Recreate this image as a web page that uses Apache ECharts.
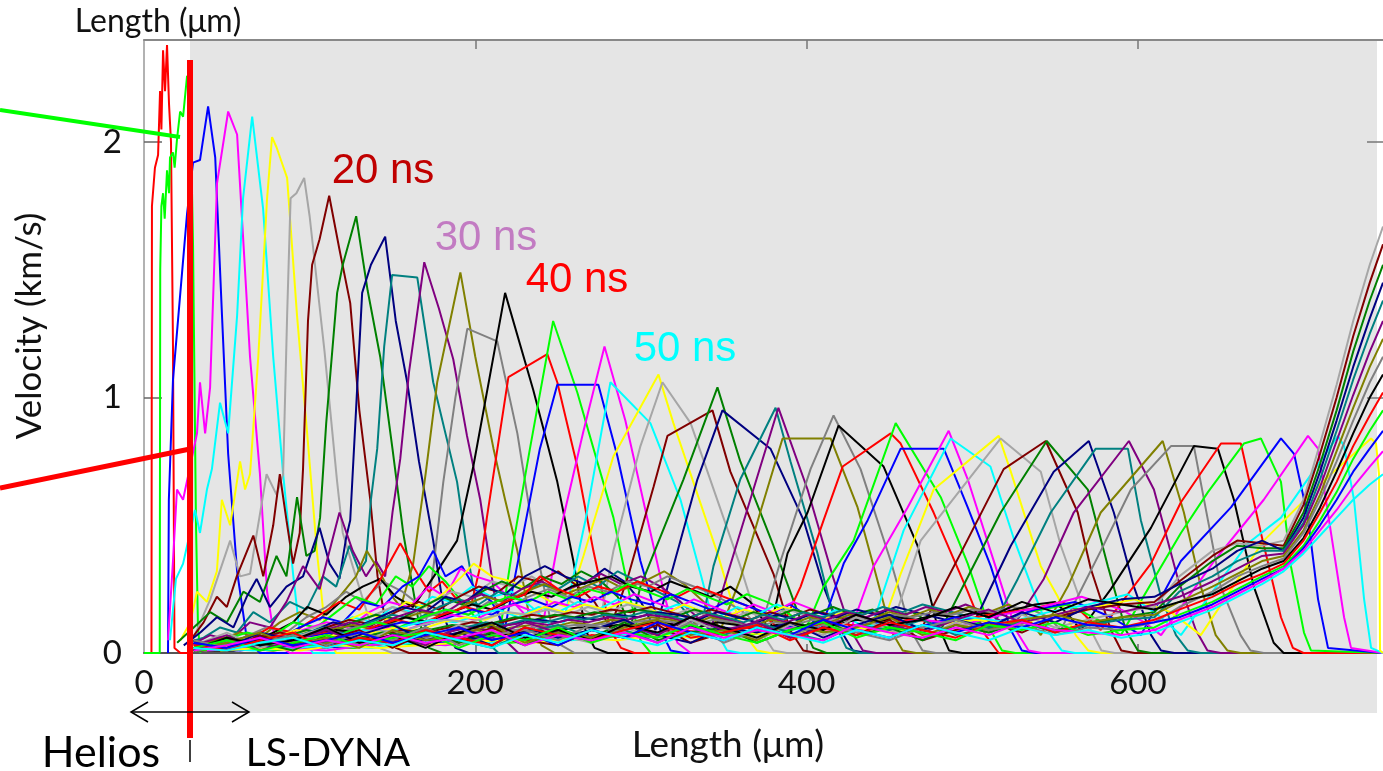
<!DOCTYPE html>
<html><head><meta charset="utf-8">
<script src="https://cdn.jsdelivr.net/npm/echarts@6/dist/echarts.min.js"></script>
<style>html,body{margin:0;padding:0;background:#fff}#c{width:1383px;height:771px}</style>
</head><body><div id="c"></div>
<script>
// Velocity profiles (x: Length in µm, y: Velocity in km/s), one array per time step
const p01=[[0,0],[4.5,0],[4.8,1.75],[6.6,1.9],[8.5,1.95],[9.7,2.2],[10.5,2.05],[11.5,2.36],[12.7,2.2],[13.9,2.38],[15.1,2.15],[16.3,2.0],[17.5,1.2],[18.4,.02],[22,0],[28,0]];
const p02=[[0,0],[9.5,0],[9.8,1.5],[10.5,1.75],[11.5,1.8],[12.5,1.7],[13.9,1.89],[15.1,1.8],[15.7,1.94],[17.5,1.96],[18.5,1.9],[19.9,2.01],[21.8,2.12],[23.6,2.1],[26,2.26],[27.8,2.2],[29.6,1.6],[31.4,.5],[32.6,.1],[34,0]];
const p03=[[14.5,0],[15,.6],[17.5,1.07],[20.5,1.3],[26,1.72],[29.6,1.92],[33.8,1.93],[38.7,2.14],[43,1.94],[47.1,1.32],[50.8,.78],[56.2,.32],[62.2,.05],[70,0],[748,0]];
const p04=[[14.5,.05],[17.5,.36],[19.9,.64],[23.6,.6],[32,.86],[33.8,1.06],[36.9,.86],[39.9,1.04],[44.1,1.84],[50.8,2.12],[56.2,2.03],[59.8,1.63],[64,1.16],[70,.7],[74.3,.24],[79.2,.04],[88,0],[748,0]];
const p05=[[15.7,.05],[19.3,.29],[23.6,.35],[30.8,.56],[33.8,.47],[38,.64],[41,.72],[45.9,.98],[50.8,.86],[56.2,1.32],[59.8,1.78],[65.3,2.1],[71.9,1.74],[78,1.16],[84,.7],[90,.31],[94,.08],[102,0],[748,0]];
const p06=[[22,.05],[28,.12],[32,.24],[38,.2],[44,.32],[47,.6],[52,.5],[58,.75],[61,.64],[64,.7],[69,1.16],[74.3,1.78],[77.3,2.02],[80,1.98],[86.4,1.86],[92.4,1.32],[98.5,.86],[104.5,.39],[109.4,.09],[116,0],[748,0]];
const p07=[[30,.06],[40,.21],[52,.44],[58,.3],[64,.31],[74,.7],[80,.62],[84,.7],[86.4,1.32],[88.5,1.78],[92,1.8],[96.7,1.86],[100,1.71],[109,1.18],[116.6,.67],[120,.47],[126,.34],[136,.13],[142,.02],[150,0],[748,0]];
const p08=[[28,.05],[36,.12],[44,.22],[50,.18],[56,.3],[66,.46],[72,.3],[78,.5],[82,.7],[86,.52],[90,.35],[94,.47],[96,.72],[99,1.3],[101.5,1.52],[106,1.62],[111.8,1.79],[118,1.58],[124.5,1.37],[130,.95],[136.6,.6],[141,.3],[145.6,.13],[152,.02],[160,0],[748,0]];
const p09=[[20,.04],[30,.1],[40,.16],[50,.12],[60,.24],[70,.2],[80,.38],[86,.3],[92.4,.61],[98,.38],[103,.4],[106.3,.53],[110,.9],[116.6,1.41],[120,1.52],[128.1,1.71],[135,1.42],[142.6,1.16],[150,.8],[156.5,.47],[165.6,.13],[172,.02],[180,0],[748,0]];
const p10=[[24,.03],[34,.08],[44,.14],[54,.1],[62,.22],[68,.29],[76,.18],[86,.26],[96,.3],[106,.49],[112,.35],[118,.29],[122,.45],[124.5,.52],[128,.95],[131.7,1.41],[137,1.52],[145.6,1.63],[152,1.3],[158.9,1.06],[166,.75],[174.6,.44],[181.9,.13],[188,.02],[196,0],[748,0]];
const p11=[[26,.04],[36,.06],[46,.1],[56,.08],[66,.16],[76,.12],[88,.2],[98,.17],[108,.3],[116,.26],[124,.42],[130,.32],[134,.36],[137,.6],[140.8,.8],[145,1.2],[149.8,1.48],[165,1.47],[174.6,1.06],[189,.67],[195,.4],[200,.21],[206,.05],[214,0],[748,0]];
const p12=[[28,.03],[40,.07],[52,.05],[64,.12],[76,.1],[86,.2],[96,.34],[106,.25],[118,.55],[126,.4],[134,.3],[140,.36],[145.6,.3],[150,.55],[154.7,.76],[160,1.1],[169.2,1.53],[178,1.35],[186.7,1.15],[195,.85],[203,.6],[212,.21],[218,.05],[226,0],[748,0]];
const p13=[[30,.02],[44,.05],[58,.08],[70,.06],[82,.12],[94,.16],[106,.13],[118,.22],[128,.3],[134.5,.4],[142,.32],[150,.22],[155,.18],[162.5,.35],[170,.7],[177,1.06],[191,1.49],[200,1.16],[211,.8],[218,.6],[225.4,.4],[233,.13],[240,.03],[248,0],[748,0]];
const p14=[[32,.02],[46,.04],[60,.06],[74,.1],[86,.08],[98,.14],[110,.18],[122,.24],[132,.2],[144,.28],[156,.24],[164,.2],[169.8,.1],[175,.35],[180.7,.67],[188,1.0],[195.2,1.27],[213.3,1.22],[225.4,.86],[235,.47],[245.3,.13],[252,.03],[260,0],[748,0]];
const p15=[[34,.02],[50,.05],[64,.04],[78,.08],[90,.12],[98.5,.18],[110,.15],[122,.22],[132,.26],[142.6,.29],[152,.22],[162.5,.18],[175,.3],[189,.44],[198.8,.73],[218,1.41],[235,1.03],[249.5,.67],[259.2,.36],[266.5,.09],[272,.02],[280,0],[748,0]];
const p16=[[30,.03],[46,.06],[60,.04],[76,.1],[90,.08],[104,.14],[118,.2],[130,.17],[142,.28],[154.7,.43],[166,.3],[172,.24],[180,.28],[190,.2],[198,.2],[203,.34],[207,.53],[220,1.08],[243.5,1.17],[249.5,1.06],[261.6,.73],[271.3,.4],[281.6,.09],[288,.02],[296,0],[748,0]];
const p17=[[32,.02],[48,.05],[62,.08],[76,.06],[90,.12],[104,.1],[116,.16],[128,.22],[140,.19],[152,.3],[162,.26],[172,.34],[182,.28],[192,.2],[200,.14],[208,.1],[215,.09],[223,.43],[233,.8],[247,1.3],[261.6,1.02],[283.4,.53],[293.7,.21],[299.7,.05],[306,0],[748,0]];
const p18=[[34,.02],[50,.04],[66,.07],[80,.05],[94,.1],[108,.14],[120,.12],[132,.2],[144,.18],[156,.26],[166,.3],[174.6,.4],[182,.3],[192,.34],[200,.25],[210,.2],[218,.1],[227,.4],[239,.8],[249.5,1.05],[274.3,1.05],[285.8,.77],[299.7,.36],[311.8,.09],[318,.01],[326,0],[748,0]];
const p19=[[36,.02],[52,.03],[68,.06],[82,.05],[96,.09],[110,.12],[124,.1],[136,.16],[148,.2],[160,.18],[172,.26],[182,.22],[191,.33],[200,.3],[210,.28],[220,.22],[230,.15],[239,.05],[251,.47],[265,.86],[278,1.2],[290.6,.91],[302.7,.56],[314.8,.21],[322,.04],[330,0],[748,0]];
const p20=[[38,.01],[54,.04],[70,.03],[84,.07],[98,.06],[112,.1],[126,.14],[138,.12],[150,.18],[162,.16],[174,.22],[186,.2],[198,.26],[210,.22],[222,.24],[234,.18],[244,.12],[251,.05],[266.5,.52],[281.6,1.06],[305.7,.9],[323.9,.6],[336,.31],[345,.09],[352,.01],[360,0],[748,0]];
const p21=[[30,.02],[46,.05],[62,.03],[78,.06],[92,.09],[106,.07],[120,.12],[134,.16],[146,.13],[158,.2],[170,.18],[182,.24],[192,.3],[199,.35],[210,.3],[222,.28],[234,.24],[246,.2],[255.6,.18],[265.3,.38],[283.4,.77],[310.6,1.09],[319.6,.9],[346.2,.39],[354,.22],[363,.07],[370,.01],[378,0],[748,0]];
const p22=[[32,.01],[48,.04],[64,.06],[80,.05],[94,.08],[108,.11],[122,.09],[136,.14],[150,.18],[162,.15],[174,.2],[186,.24],[198,.22],[210,.28],[222,.26],[234,.3],[246,.25],[258,.2],[268,.16],[275.5,.13],[283.4,.4],[299.7,.81],[313,1.06],[330,.9],[360,.34],[372,.09],[380,.01],[388,0],[748,0]];
const p23=[[34,.02],[50,.03],[66,.05],[82,.08],[96,.06],[110,.1],[124,.13],[138,.11],[152,.16],[166,.2],[178,.17],[190,.22],[202,.26],[214,.24],[226,.3],[238,.28],[250,.32],[262,.26],[272,.2],[281.6,.1],[291.8,.29],[307.6,.65],[316,.85],[343.2,.95],[354,.71],[380,.31],[390,.09],[398,.01],[406,0],[748,0]];
const p24=[[36,.01],[52,.04],[68,.03],[84,.06],[98,.09],[112,.07],[126,.12],[140,.15],[154,.13],[168,.18],[180,.22],[192,.19],[204,.24],[216,.28],[228,.25],[240,.3],[252,.27],[264,.32],[276,.28],[286,.22],[293.7,.1],[299.7,.26],[325.7,.68],[346.2,1.04],[360,.75],[380,.42],[396.4,.13],[404,.02],[412,0],[748,0]];
const p25=[[38,.02],[54,.03],[70,.06],[86,.05],[100,.08],[114,.12],[128,.1],[142,.14],[156,.18],[170,.16],[182,.22],[194,.2],[206,.26],[218,.23],[230,.3],[242,.34],[254,.3],[266,.27],[278,.33],[290,.28],[300,.2],[308.8,.09],[319.6,.34],[334.1,.68],[349.2,.95],[378.2,.8],[398.2,.52],[410.3,.26],[420.5,.09],[428,.01],[436,0],[748,0]];
const p26=[[30,.01],[46,.03],[62,.05],[78,.04],[94,.07],[108,.1],[122,.08],[136,.12],[150,.15],[164,.13],[178,.18],[190,.21],[202,.19],[214,.24],[226,.22],[238,.27],[250,.25],[262,.3],[274,.26],[286,.32],[298,.28],[310,.24],[322,.2],[336,.09],[343.8,.34],[360,.68],[381.3,.96],[390.3,.75],[406.6,.39],[417.5,.11],[424,.02],[432,0],[748,0]];
const p27=[[32,.02],[48,.02],[64,.04],[80,.07],[96,.05],[110,.09],[124,.12],[138,.1],[152,.14],[166,.17],[180,.15],[192,.2],[204,.23],[216,.2],[228,.25],[240,.28],[252,.24],[264,.27],[276,.31],[288,.27],[300,.3],[312,.26],[324,.2],[334,.14],[342,.09],[366,.6],[383,.96],[400.6,.64],[416.3,.29],[426.6,.09],[434,.01],[442,0],[748,0]];
const p28=[[34,.01],[50,.03],[66,.05],[82,.04],[98,.06],[112,.09],[126,.11],[140,.09],[154,.13],[168,.16],[182,.14],[194,.19],[206,.22],[218,.2],[230,.24],[242,.27],[254,.23],[266,.26],[278,.29],[290,.25],[302,.28],[314,.32],[326,.27],[338,.2],[348,.09],[360,.29],[372,.55],[385.5,.84],[414.5,.84],[430.8,.57],[440.5,.34],[450.8,.09],[458,.01],[466,0],[748,0]];
const p29=[[36,.02],[52,.02],[68,.04],[84,.06],[100,.05],[114,.08],[128,.1],[142,.12],[156,.1],[170,.14],[184,.17],[196,.15],[208,.2],[220,.18],[232,.22],[244,.25],[256,.22],[268,.26],[280,.24],[292,.28],[304,.26],[316,.3],[328,.27],[340,.24],[352,.2],[364,.15],[372,.09],[384.3,.36],[402.4,.72],[416.3,.93],[432.6,.72],[450.8,.36],[462.8,.09],[470,.01],[478,0],[748,0]];
const p30=[[38,.01],[54,.03],[70,.05],[86,.04],[102,.07],[116,.09],[130,.08],[144,.11],[158,.14],[172,.12],[186,.16],[198,.19],[210,.17],[222,.21],[234,.24],[246,.22],[258,.26],[270,.28],[282,.3],[294,.26],[306,.24],[318,.28],[330,.25],[342,.22],[354,.26],[366,.2],[378,.09],[388.5,.39],[400.6,.55],[419.3,.89],[446.5,.73],[467,.42],[478,.13],[486,.01],[494,0],[748,0]];
const p31=[[30,.01],[46,.02],[62,.04],[78,.03],[94,.06],[110,.08],[124,.07],[138,.1],[152,.13],[166,.11],[180,.15],[194,.18],[206,.16],[218,.2],[230,.23],[239,.3],[250,.25],[262,.22],[274,.26],[286,.24],[298,.28],[310,.25],[322,.22],[334,.26],[346,.23],[358,.2],[370,.17],[384.3,.09],[396.4,.26],[410.3,.52],[421.8,.73],[450.8,.86],[456.8,.82],[476.7,.55],[497.3,.24],[508,.07],[516,0],[748,0]];
const p32=[[32,.02],[48,.03],[64,.02],[80,.05],[96,.07],[112,.06],[126,.09],[140,.12],[154,.1],[168,.14],[182,.17],[196,.15],[208,.19],[220,.22],[232,.2],[244,.24],[256,.21],[268,.25],[280,.23],[292,.27],[304,.24],[316,.21],[328,.25],[340,.22],[352,.19],[364,.23],[376,.2],[388,.16],[400,.1],[410.3,.26],[428.4,.44],[453.8,.9],[481,.61],[497.3,.35],[511,.09],[518,.01],[526,0],[748,0]];
const p33=[[34,.01],[50,.02],[66,.04],[82,.03],[98,.06],[114,.08],[128,.07],[142,.1],[156,.12],[170,.11],[184,.14],[198,.17],[210,.15],[222,.19],[234,.21],[246,.18],[258,.22],[270,.2],[282,.24],[294,.21],[306,.19],[318,.23],[330,.2],[342,.17],[354,.21],[366,.18],[378,.15],[390,.19],[402,.14],[408.5,.09],[422.4,.35],[436.9,.52],[456.8,.8],[482.8,.8],[497.3,.57],[511.2,.34],[523.3,.09],[530,.01],[538,0],[748,0]];
const p34=[[36,.01],[52,.03],[68,.02],[84,.04],[100,.06],[116,.05],[130,.08],[144,.1],[158,.09],[172,.12],[186,.15],[200,.13],[212,.17],[224,.19],[236,.16],[248,.2],[260,.18],[272,.22],[284,.19],[296,.23],[308,.2],[320,.17],[332,.21],[344,.18],[356,.15],[368,.19],[380,.16],[392,.2],[404,.17],[416,.13],[426.6,.09],[440.5,.34],[461,.57],[485.8,.87],[497.3,.68],[514,.34],[526.3,.09],[534,.01],[542,0],[748,0]];
const p35=[[38,.02],[54,.02],[70,.03],[86,.05],[102,.04],[118,.07],[132,.09],[146,.08],[160,.11],[174,.13],[188,.12],[202,.15],[214,.17],[226,.14],[238,.18],[250,.16],[262,.2],[274,.17],[286,.21],[298,.18],[310,.16],[322,.19],[334,.17],[346,.14],[358,.18],[370,.15],[382,.19],[394,.16],[406,.13],[418,.17],[430,.12],[438.7,.09],[458.6,.48],[487,.84],[511,.73],[525,.45],[537,.24],[547.4,.07],[554,.01],[562,0],[748,0]];
const p36=[[30,.01],[46,.02],[62,.03],[78,.02],[94,.05],[110,.07],[124,.06],[138,.08],[152,.1],[166,.09],[180,.12],[194,.14],[206,.13],[218,.16],[230,.15],[242,.18],[254,.16],[266,.19],[278,.17],[290,.2],[302,.18],[314,.15],[326,.19],[338,.16],[350,.14],[362,.17],[374,.15],[386,.18],[398,.16],[410,.13],[422,.16],[434,.14],[444.7,.09],[456.8,.31],[476.7,.64],[516,.85],[523.3,.71],[541.4,.34],[551.7,.22],[562.5,.07],[570,.01],[578,0],[748,0]];
const p37=[[32,.01],[48,.02],[64,.02],[80,.04],[96,.06],[112,.05],[126,.07],[140,.09],[154,.08],[168,.11],[182,.13],[196,.12],[208,.14],[220,.16],[232,.15],[244,.17],[256,.15],[268,.18],[280,.16],[292,.19],[304,.17],[316,.14],[328,.17],[340,.15],[352,.13],[364,.16],[376,.14],[388,.17],[400,.15],[412,.12],[424,.15],[436,.13],[450.8,.09],[468.9,.44],[517.2,.84],[541.4,.71],[553.5,.42],[571.6,.09],[578,.01],[586,0],[748,0]];
const p38=[[34,.01],[50,.02],[66,.03],[82,.02],[98,.04],[114,.06],[128,.05],[142,.07],[156,.09],[170,.08],[184,.1],[198,.12],[210,.11],[222,.13],[234,.15],[246,.14],[258,.16],[270,.15],[282,.17],[294,.16],[306,.18],[318,.16],[330,.14],[342,.17],[354,.15],[366,.13],[378,.16],[390,.14],[402,.17],[414,.15],[426,.13],[438,.16],[450,.14],[460,.12],[468.9,.09],[493,.39],[519,.72],[544.4,.83],[563.7,.55],[571.6,.33],[583.7,.09],[590,.01],[598,0],[748,0]];
const p39=[[36,.01],[52,.02],[68,.02],[84,.03],[100,.05],[116,.04],[130,.06],[144,.08],[158,.07],[172,.09],[186,.11],[200,.1],[212,.12],[224,.14],[236,.13],[248,.15],[260,.14],[272,.16],[284,.15],[296,.17],[308,.16],[320,.14],[332,.17],[344,.15],[356,.13],[368,.16],[380,.14],[392,.17],[404,.15],[416,.18],[428,.15],[440,.17],[452,.14],[464,.16],[474,.12],[481,.09],[517.2,.55],[545,.83],[569.8,.64],[581.9,.34],[592.7,.09],[600,.01],[608,0],[748,0]];
const p40=[[38,.01],[54,.01],[70,.03],[86,.02],[102,.04],[118,.05],[132,.04],[146,.06],[160,.08],[174,.07],[188,.09],[202,.11],[214,.1],[226,.12],[238,.13],[250,.12],[262,.14],[274,.13],[286,.15],[298,.14],[310,.16],[322,.15],[334,.13],[346,.16],[358,.14],[370,.12],[382,.15],[394,.13],[406,.16],[418,.14],[430,.17],[442,.15],[454,.18],[466,.16],[478,.14],[490,.12],[499,.09],[523.3,.42],[549.2,.71],[570.4,.83],[585.5,.55],[597.6,.26],[608,.07],[614,.01],[622,0],[748,0]];
const p41=[[30,.01],[46,.01],[62,.02],[78,.03],[94,.02],[110,.04],[124,.06],[138,.05],[152,.07],[166,.09],[180,.08],[194,.1],[206,.12],[218,.11],[230,.13],[242,.12],[254,.14],[266,.13],[278,.15],[290,.14],[302,.16],[314,.15],[326,.13],[338,.16],[350,.14],[362,.12],[374,.15],[386,.13],[398,.16],[410,.14],[422,.17],[434,.15],[446,.18],[458,.16],[470,.19],[482,.17],[494,.15],[504,.12],[511.2,.09],[527.5,.29],[547.4,.55],[574.6,.8],[594,.8],[601.8,.52],[614,.22],[623,.07],[630,.01],[638,0],[748,0]];
const p42=[[32,.01],[48,.01],[64,.02],[80,.02],[96,.03],[112,.05],[126,.04],[140,.06],[154,.07],[168,.06],[182,.08],[196,.1],[208,.09],[220,.11],[232,.12],[244,.11],[256,.13],[268,.12],[280,.14],[292,.13],[304,.15],[316,.14],[328,.12],[340,.15],[352,.13],[364,.11],[376,.14],[388,.12],[400,.15],[412,.13],[424,.16],[436,.14],[448,.17],[460,.15],[472,.18],[484,.16],[496,.19],[508,.16],[516,.13],[523.3,.09],[543.2,.29],[561.3,.55],[594.6,.83],[609.7,.64],[624.2,.29],[635,.09],[642,.01],[650,0],[748,0]];
const p43=[[34,.01],[50,.01],[66,.02],[82,.02],[98,.03],[114,.04],[128,.04],[142,.05],[156,.06],[170,.06],[184,.07],[198,.09],[210,.08],[222,.1],[234,.11],[246,.1],[258,.12],[270,.11],[282,.13],[294,.12],[306,.14],[318,.13],[330,.11],[342,.14],[354,.12],[366,.1],[378,.13],[390,.11],[402,.14],[414,.12],[426,.15],[438,.13],[450,.16],[462,.14],[474,.17],[486,.15],[498,.18],[510,.16],[522,.19],[532,.15],[541.4,.07],[557.7,.26],[577.6,.55],[615,.83],[627.8,.55],[638,.26],[647,.07],[654,.01],[662,0],[748,0]];
const p44=[[36,.01],[52,.01],[68,.02],[84,.02],[100,.03],[116,.03],[130,.04],[144,.05],[158,.05],[172,.06],[186,.07],[200,.08],[212,.08],[224,.09],[236,.1],[248,.1],[260,.11],[272,.11],[284,.12],[296,.12],[308,.13],[320,.12],[332,.11],[344,.13],[356,.12],[368,.1],[380,.12],[392,.11],[404,.13],[416,.12],[428,.14],[440,.13],[452,.15],[464,.14],[476,.16],[488,.15],[500,.17],[512,.16],[524,.18],[536,.17],[546,.14],[553.5,.09],[577.6,.4],[595.8,.64],[620,.81],[633.8,.81],[642.3,.52],[650,.26],[662,.07],[668,.01],[676,0],[748,0]];
const p45=[[38,.01],[54,.01],[70,.02],[86,.02],[102,.02],[118,.03],[132,.03],[146,.04],[160,.05],[174,.05],[188,.06],[202,.07],[214,.07],[226,.08],[238,.09],[250,.09],[262,.1],[274,.1],[286,.11],[298,.11],[310,.12],[322,.11],[334,.1],[346,.12],[358,.11],[370,.09],[382,.11],[394,.1],[406,.12],[418,.11],[430,.13],[442,.12],[454,.14],[466,.13],[478,.15],[490,.14],[502,.16],[514,.15],[526,.17],[538,.19],[550,.2],[558,.15],[565.6,.09],[583.7,.25],[607.9,.49],[633.8,.81],[648.3,.8],[658,.6],[670,.26],[682,.04],[688,0],[748,0]];
const p46=[[30,.01],[54,.02],[78,.01],[102,.03],[126,.02],[150,.04],[174,.03],[198,.05],[222,.06],[246,.05],[270,.07],[294,.06],[318,.09],[342,.08],[366,.1],[390,.09],[414,.12],[438,.1],[462,.13],[486,.12],[510,.15],[534,.17],[554,.2],[566,.16],[577.6,.09],[607.9,.35],[626,.59],[650.2,.82],[662.2,.82],[674.3,.47],[686.4,.14],[693.6,.02],[700,0],[748,0]];
const p47=[[30,.01],[54,.02],[78,.01],[102,.03],[126,.02],[150,.04],[174,.03],[198,.05],[222,.04],[246,.06],[270,.05],[294,.08],[318,.06],[342,.09],[366,.07],[390,.1],[414,.08],[438,.11],[462,.09],[486,.13],[510,.11],[534,.16],[558,.19],[576,.13],[589.7,.07],[626,.47],[642.3,.63],[664,.82],[674.3,.84],[686.4,.67],[692.4,.34],[700.3,.08],[704.5,.01],[748,0]];
const p48=[[34,.02],[58,.01],[82,.03],[106,.02],[130,.03],[154,.05],[178,.04],[202,.06],[226,.05],[250,.07],[274,.06],[298,.08],[322,.07],[346,.1],[370,.08],[394,.11],[418,.09],[442,.12],[466,.1],[490,.14],[514,.12],[538,.17],[562,.2],[584,.14],[601.8,.07],[626,.36],[656.2,.57],[686.4,.84],[694.3,.78],[702.7,.53],[708.8,.21],[714.8,.02],[748,0]];
const p49=[[38,.01],[62,.02],[86,.02],[110,.01],[134,.03],[158,.04],[182,.03],[206,.05],[230,.06],[254,.05],[278,.07],[302,.06],[326,.08],[350,.07],[374,.09],[398,.1],[422,.08],[446,.11],[470,.13],[494,.11],[518,.15],[542,.18],[566,.22],[590,.17],[604,.12],[614,.07],[646,.36],[676,.6],[702.7,.85],[708.8,.8],[716.6,.47],[724.5,.14],[728.7,.02],[748,0]];
const p50=[[42,.02],[66,.01],[90,.02],[114,.03],[138,.02],[162,.04],[186,.05],[210,.04],[234,.06],[258,.05],[282,.07],[306,.08],[330,.06],[354,.09],[378,.08],[402,.1],[426,.09],[450,.12],[474,.1],[498,.14],[522,.12],[546,.16],[570,.19],[594,.23],[612,.15],[626,.07],[666.5,.43],[686.4,.53],[720.8,.85],[724.5,.81],[730.5,.6],[736.6,.21],[740.8,.02],[748,0]];
const p51=[[46,.01],[70,.02],[94,.01],[118,.03],[142,.02],[166,.03],[190,.04],[214,.05],[238,.04],[262,.06],[286,.05],[310,.07],[334,.06],[358,.08],[382,.07],[406,.09],[430,.1],[454,.08],[478,.11],[502,.13],[526,.11],[550,.15],[574,.18],[598,.21],[620,.16],[638,.07],[676,.44],[714.8,.69],[740.8,.84],[743.8,.82],[745.6,.7],[746.2,.01],[748,0]];

// Later time steps (after the wave reaches the rear surface): shared x positions, one y array each
const fanX=[30,50,70,90,110,130,150,170,190,210,230,250,270,290,310,330,350,370,390,410,430,450,470,490,510,530,550,570,590,610,625,645,660,675,688,700,710,720,730,740,748];
const f01=[.03,.08,.02,.06,.1,.04,.09,.05,.11,.06,.12,.07,.04,.1,.06,.13,.08,.05,.11,.07,.14,.09,.06,.12,.08,.15,.1,.13,.16,.18,.3,.4,.43,.42,.44,.6,.82,1.05,1.3,1.52,1.67];
const f02=[.05,.01,.07,.03,.05,.09,.02,.08,.04,.1,.05,.03,.09,.06,.11,.04,.08,.12,.06,.1,.07,.13,.05,.09,.12,.08,.14,.17,.19,.2,.28,.38,.44,.43,.42,.58,.78,1.0,1.24,1.45,1.6];
const f03=[.02,.06,.04,.01,.07,.03,.06,.1,.04,.08,.03,.09,.06,.12,.05,.08,.1,.04,.09,.13,.07,.1,.05,.11,.08,.12,.09,.11,.14,.16,.26,.36,.42,.41,.41,.55,.74,.95,1.18,1.38,1.52];
const f04=[.04,.02,.08,.05,.03,.07,.11,.05,.08,.03,.1,.06,.09,.13,.07,.04,.1,.08,.12,.06,.11,.15,.09,.13,.1,.16,.12,.18,.21,.22,.27,.33,.4,.44,.4,.53,.71,.91,1.12,1.31,1.45];
const f05=[.01,.05,.03,.07,.02,.06,.04,.09,.05,.02,.08,.11,.06,.09,.04,.1,.07,.12,.08,.05,.11,.09,.13,.07,.1,.12,.08,.11,.13,.14,.24,.3,.36,.4,.4,.51,.68,.87,1.07,1.25,1.38];
const f06=[.03,.07,.01,.05,.09,.04,.07,.03,.1,.06,.12,.08,.05,.11,.07,.14,.09,.12,.06,.1,.15,.11,.08,.13,.17,.12,.15,.18,.16,.19,.22,.28,.33,.38,.39,.5,.65,.83,1.01,1.18,1.3];
const f07=[.02,.04,.08,.03,.06,.02,.09,.05,.07,.11,.04,.08,.06,.1,.13,.07,.09,.05,.12,.08,.1,.14,.07,.11,.09,.13,.15,.12,.14,.15,.2,.26,.31,.36,.38,.48,.62,.79,.96,1.12,1.23];
const f08=[.05,.02,.04,.07,.03,.08,.05,.1,.03,.07,.09,.05,.11,.08,.06,.12,.04,.09,.07,.11,.08,.05,.1,.13,.09,.11,.07,.1,.09,.12,.18,.24,.3,.34,.37,.47,.6,.75,.91,1.06,1.16];
const f09=[.01,.06,.03,.05,.1,.04,.07,.02,.08,.12,.06,.09,.05,.11,.08,.14,.1,.06,.12,.09,.15,.11,.13,.18,.14,.2,.16,.21,.19,.17,.2,.23,.28,.33,.36,.45,.57,.71,.86,1.0,1.09];
const f10=[.03,.01,.05,.08,.02,.06,.04,.09,.06,.03,.1,.07,.05,.09,.12,.06,.08,.11,.05,.1,.07,.12,.09,.06,.11,.13,.08,.12,.1,.13,.17,.22,.27,.31,.35,.44,.55,.67,.81,.93,1.02];
const f11=[.02,.05,.01,.04,.07,.03,.06,.08,.02,.07,.05,.1,.04,.08,.06,.11,.07,.04,.09,.12,.06,.1,.08,.05,.11,.09,.12,.07,.09,.1,.15,.2,.25,.3,.34,.42,.52,.63,.76,.87,.95];
const f12=[.04,.02,.06,.03,.05,.08,.04,.07,.1,.05,.08,.03,.09,.06,.12,.08,.05,.1,.07,.13,.09,.06,.11,.08,.12,.1,.14,.11,.1,.12,.14,.19,.24,.29,.33,.41,.5,.6,.71,.8,.87];
const f13=[.01,.03,.06,.02,.05,.03,.07,.04,.06,.09,.03,.07,.05,.08,.04,.1,.06,.09,.07,.05,.11,.08,.06,.1,.07,.12,.09,.08,.07,.09,.13,.18,.23,.28,.33,.4,.48,.56,.65,.73,.79];
const f14=[.02,.01,.04,.06,.02,.05,.03,.08,.05,.02,.07,.04,.09,.06,.03,.08,.05,.1,.07,.04,.09,.06,.11,.08,.05,.1,.07,.09,.06,.08,.12,.17,.22,.27,.32,.39,.46,.53,.6,.66,.7];

const xTicks=[0,200,400,600];
const yTicks=[0,1,2];
const palette=['#FF0000','#00FF00','#0000FF','#FF00FF','#00FFFF','#FFFF00','#A6A6A6','#800000','#008000','#000080','#008080','#800080','#808000','#808080','#000000'];

const pulses=[p01,p02,p03,p04,p05,p06,p07,p08,p09,p10,p11,p12,p13,p14,p15,p16,p17,p18,p19,p20,p21,p22,p23,p24,p25,p26,p27,p28,p29,p30,p31,p32,p33,p34,p35,p36,p37,p38,p39,p40,p41,p42,p43,p44,p45,p46,p47,p48,p49,p50,p51];
const fans=[f01,f02,f03,f04,f05,f06,f07,f08,f09,f10,f11,f12,f13,f14];

const allData=pulses.concat(fans.map(f=>fanX.map((x,j)=>[x,f[j]])));
const series=allData.map((d,i)=>({
  type:'line',data:d,showSymbol:false,symbol:'none',silent:true,animation:false,
  lineStyle:{color:palette[i%palette.length],width:2},
  itemStyle:{color:palette[i%palette.length]}
}));

const chart=echarts.init(document.getElementById('c'),null,{renderer:'canvas'});
const F='Lato, "Open Sans", sans-serif';
const A='"Liberation Sans", Arial, sans-serif';
chart.setOption({
  animation:false,
  backgroundColor:'#ffffff',
  grid:{left:144,right:0,top:40,bottom:118,containLabel:false,outerBoundsMode:'none'},
  xAxis:[
    {type:'value',position:'bottom',min:0,max:748,
     axisLine:{show:true,onZero:false,lineStyle:{color:'#555',width:2}},
     axisTick:{show:true,inside:true,length:9,customValues:[200,400,600],lineStyle:{color:'#666',width:1.5}},
     axisLabel:{customValues:xTicks,fontSize:33,fontFamily:F,color:'#111',margin:14},
     splitLine:{show:false}},
    {type:'value',position:'top',min:0,max:748,
     axisLine:{show:true,onZero:false,lineStyle:{color:'#888',width:2}},
     axisTick:{show:true,inside:true,length:9,customValues:[200,400,600],lineStyle:{color:'#777',width:1.5}},
     axisLabel:{show:false},splitLine:{show:false}}
  ],
  yAxis:[
    {type:'value',position:'left',min:0,max:2.4,
     axisLine:{show:true,onZero:false,lineStyle:{color:'#999',width:1.5}},
     axisTick:{show:true,inside:true,length:18,customValues:[1,2],lineStyle:{color:'#666',width:1.5}},
     axisLabel:{customValues:yTicks,fontSize:33,fontFamily:F,color:'#111',margin:22},
     splitLine:{show:false}},
    {type:'value',position:'right',min:0,max:2.4,
     axisLine:{show:true,onZero:false,lineStyle:{color:'#fff',opacity:0}},
     axisTick:{show:true,inside:true,length:16,customValues:[1,2],lineStyle:{color:'#777',width:1.5}},
     axisLabel:{show:false},splitLine:{show:false}}
  ],
  series:series,
  graphic:{elements:[
    {type:'rect',z:-10,silent:true,shape:{x:190,y:40,width:1187,height:673},style:{fill:'#E5E5E5'}},
    {type:'line',z:100,shape:{x1:0,y1:110,x2:180,y2:137},style:{stroke:'#00FF00',lineWidth:4}},
    {type:'line',z:100,shape:{x1:0,y1:488,x2:190,y2:449},style:{stroke:'#FF0000',lineWidth:5}},
    {type:'line',z:100,shape:{x1:190,y1:60,x2:190,y2:738},style:{stroke:'#FF0000',lineWidth:6}},
    {type:'line',z:100,shape:{x1:190,y1:740,x2:190,y2:762},style:{stroke:'#000',lineWidth:1.5}},
    {type:'line',z:100,shape:{x1:131,y1:712,x2:249,y2:712},style:{stroke:'#000',lineWidth:1.5}},
    {type:'polyline',z:100,shape:{points:[[148,702],[131,712],[148,722]]},style:{stroke:'#000',lineWidth:1.5,fill:null}},
    {type:'polyline',z:100,shape:{points:[[232,702],[249,712],[232,722]]},style:{stroke:'#000',lineWidth:1.5,fill:null}},
    {type:'text',z:100,x:158,y:22,style:{text:'Length (μm)',font:'32px '+F,fill:'#111',align:'center',verticalAlign:'middle'}},
    {type:'text',z:100,x:30,y:326,rotation:Math.PI/2,style:{text:'Velocity (km/s)',font:'35px '+F,fill:'#111',align:'center',verticalAlign:'middle'}},
    {type:'text',z:100,x:728,y:745,style:{text:'Length (μm)',font:'37px '+F,fill:'#111',align:'center',verticalAlign:'middle'}},
    {type:'text',z:100,x:101,y:753,style:{text:'Helios',font:'43px '+F,fill:'#000',align:'center',verticalAlign:'middle'}},
    {type:'text',z:100,x:328,y:753,style:{text:'LS-DYNA',font:'39px '+F,fill:'#000',align:'center',verticalAlign:'middle'}},
    {type:'text',z:100,x:383,y:171,style:{text:'20 ns',font:'42px '+A,fill:'#C00000',align:'center',verticalAlign:'middle'}},
    {type:'text',z:100,x:486,y:238,style:{text:'30 ns',font:'42px '+A,fill:'#C27BC2',align:'center',verticalAlign:'middle'}},
    {type:'text',z:100,x:577,y:280,style:{text:'40 ns',font:'42px '+A,fill:'#FF0000',align:'center',verticalAlign:'middle'}},
    {type:'text',z:100,x:685,y:349,style:{text:'50 ns',font:'42px '+A,fill:'#00FFFF',align:'center',verticalAlign:'middle'}}
  ]}
});
</script></body></html>
